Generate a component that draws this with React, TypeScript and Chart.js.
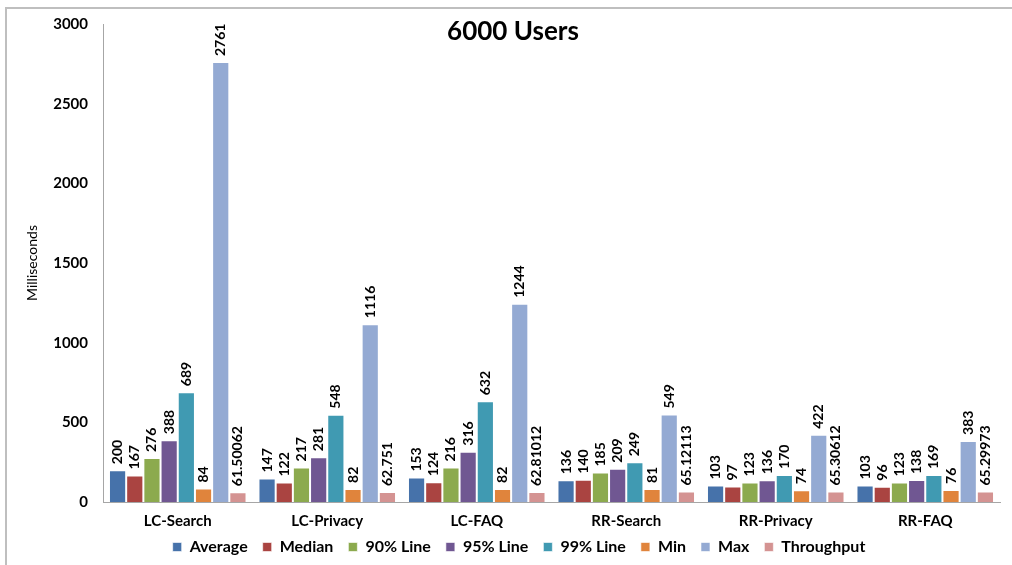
import React, { useEffect, useRef } from "react";
import { Chart, registerables } from "chart.js";

Chart.register(...registerables);

const categories = ["LC-Search", "LC-Privacy", "LC-FAQ", "RR-Search", "RR-Privacy", "RR-FAQ"];
const average = [200, 147, 153, 136, 103, 103];
const median = [167, 122, 124, 140, 97, 96];
const line90 = [276, 217, 216, 185, 123, 123];
const line95 = [388, 281, 316, 209, 136, 138];
const line99 = [689, 548, 632, 249, 170, 169];
const minVals = [84, 82, 82, 81, 74, 76];
const maxVals = [2761, 1116, 1244, 549, 422, 383];
const throughput = [61.50062, 62.751, 62.81012, 65.12113, 65.30612, 65.29973];
const yTicks = [0, 500, 1000, 1500, 2000, 2500, 3000];

const FONT = "Lato, 'Open Sans', sans-serif";

const seriesDefs = [
  { label: "Average", data: average, color: "#4672AA" },
  { label: "Median", data: median, color: "#AA4441" },
  { label: "90% Line", data: line90, color: "#8CAA4E" },
  { label: "95% Line", data: line95, color: "#705792" },
  { label: "99% Line", data: line99, color: "#409AB2" },
  { label: "Min", data: minVals, color: "#E0843C" },
  { label: "Max", data: maxVals, color: "#94AAD3" },
  { label: "Throughput", data: throughput, color: "#D49392" },
];

const labelsPlugin = {
  id: "barLabels",
  afterDatasetsDraw(chart: any) {
    const ctx = chart.ctx;
    ctx.save();
    ctx.fillStyle = "#000";
    ctx.font = `bold 14px ${FONT}`;
    ctx.textAlign = "left";
    ctx.textBaseline = "middle";
    chart.data.datasets.forEach((ds: any, di: number) => {
      const meta = chart.getDatasetMeta(di);
      meta.data.forEach((el: any, i: number) => {
        const v = ds.data[i];
        ctx.save();
        ctx.translate(el.x, el.y - 6);
        ctx.rotate(-Math.PI / 2);
        ctx.fillText(String(v), 0, 0);
        ctx.restore();
      });
    });
    ctx.restore();
  },
};

const layoutTweakPlugin = {
  id: "layoutTweak",
  afterLayout(chart: any) {
    if (chart.legend) {
      chart.legend.left += 19;
      chart.legend.right += 19;
    }
    const x = chart.scales.x;
    if (x) {
      x.bottom += 16;
      x.height += 16;
    }
  },
};

const decorPlugin = {
  id: "decor",
  afterDraw(chart: any) {
    const ctx = chart.ctx;
    ctx.save();
    ctx.strokeStyle = "#BFBFBF";
    ctx.lineWidth = 2;
    ctx.beginPath();
    ctx.moveTo(6, 565);
    ctx.lineTo(6, 8);
    ctx.lineTo(1012, 8);
    ctx.stroke();
    ctx.fillStyle = "#000";
    ctx.font = `bold 26px ${FONT}`;
    ctx.textAlign = "center";
    ctx.textBaseline = "middle";
    ctx.fillText("6000 Users", 513, 32);
    ctx.restore();
  },
};

export default function App() {
  const ref = useRef<HTMLCanvasElement>(null);
  useEffect(() => {
    if (!ref.current) return;
    const chart = new Chart(ref.current, {
      type: "bar",
      data: {
        labels: categories,
        datasets: seriesDefs.map((s) => ({
          label: s.label,
          data: s.data,
          backgroundColor: s.color,
          borderColor: "rgba(255,255,255,0.6)",
          borderWidth: 1,
          categoryPercentage: 0.92,
          barPercentage: 1,
        })),
      },
      options: {
        responsive: false,
        animation: false,
        layout: { padding: { left: 0, right: 12, top: 20, bottom: 0 } },
        plugins: {
          legend: {
            position: "bottom",
            labels: {
              boxWidth: 9,
              boxHeight: 9,
              padding: 15,
              color: "#000",
              font: { family: FONT, size: 16, weight: "bold" },
            },
          },
          tooltip: { enabled: false },
          title: { display: false },
        },
        scales: {
          x: {
            grid: { display: false, drawTicks: false },
            border: { color: "#A6A6A6", width: 1 },
            ticks: {
              color: "#000",
              padding: 10,
              font: { family: FONT, size: 15, weight: "bold" },
            },
            afterFit(scale: any) {
              scale.height = 22;
            },
          },
          y: {
            min: 0,
            max: 3000,
            grid: { display: false, drawTicks: false },
            border: { color: "#A6A6A6", width: 1 },
            afterBuildTicks(scale: any) {
              scale.ticks = yTicks.map((v) => ({ value: v }));
            },
            ticks: {
              color: "#000",
              padding: 15,
              font: { family: FONT, size: 15, weight: "bold" },
              callback: (v: any) => String(v),
            },
            title: {
              display: true,
              text: "Milliseconds",
              color: "#000",
              padding: { top: 24, bottom: 0 },
              font: { family: FONT, size: 14 },
            },
            afterFit(scale: any) {
              scale.width = 103;
            },
          },
        },
      },
      plugins: [labelsPlugin, layoutTweakPlugin, decorPlugin],
    } as any);
    return () => chart.destroy();
  }, []);
  return (
    <div style={{ position: "absolute", left: 0, top: 0, width: 1012, height: 565, background: "#fff" }}>
      <canvas ref={ref} width={1012} height={565} style={{ display: "block" }} />
    </div>
  );
}
